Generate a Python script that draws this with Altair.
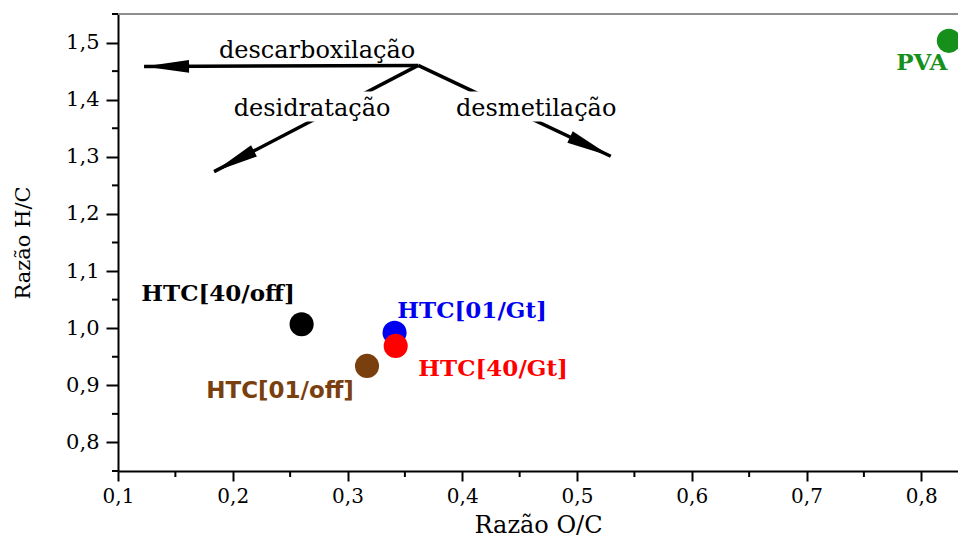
import math
import altair as alt
import pandas as pd

# ---------------- data ----------------
samples = ["PVA", "HTC[40/off]", "HTC[01/Gt]", "HTC[40/Gt]", "HTC[01/off]"]
oc_ratio = [0.824, 0.260, 0.341, 0.342, 0.317]
hc_ratio = [1.503, 1.007, 0.992, 0.969, 0.934]
sample_colors = ["#16901a", "#000000", "#0000f0", "#ff0000", "#7a3f0f"]
label_x = [0.8005, 0.1872, 0.4086, 0.4269, 0.2412]
label_y = [1.4515, 1.0473, 1.0182, 0.916, 0.8782]
label_sans = [False, False, False, False, True]

arrow_names = ["descarboxilação", "desidratação", "desmetilação"]
arrow_origin_x = 0.3616
arrow_origin_y = 1.460
arrow_tip_x = [0.1227, 0.1837, 0.5294]
arrow_tip_y = [1.458, 1.274, 1.301]
arrow_text_x = [0.2735, 0.2691, 0.4644]
arrow_text_y = [1.4727, 1.3714, 1.3714]
arrow_text_box = [False, True, True]

x_major = [0.1, 0.2, 0.3, 0.4, 0.5, 0.6, 0.7, 0.8]
x_minor = [0.15, 0.25, 0.35, 0.45, 0.55, 0.65, 0.75]
y_major = [0.8, 0.9, 1.0, 1.1, 1.2, 1.3, 1.4, 1.5]
y_minor = [0.75, 0.85, 0.95, 1.05, 1.15, 1.25, 1.35, 1.45, 1.55]

X_DOMAIN = [0.1, 0.832]
Y_DOMAIN = [0.75, 1.55]
W, H = 840, 457

px_x = W / (X_DOMAIN[1] - X_DOMAIN[0])
px_y = H / (Y_DOMAIN[1] - Y_DOMAIN[0])

# ---------------- tables ----------------
pts = pd.DataFrame({"sample": samples, "oc": oc_ratio, "hc": hc_ratio,
                    "color": sample_colors, "lx": label_x, "ly": label_y,
                    "sans": label_sans})

seg_rows = []
head_rows = []
for i, name in enumerate(arrow_names):
    seg_rows.append({"arrow": name, "order": 0, "x": arrow_origin_x, "y": arrow_origin_y})
    seg_rows.append({"arrow": name, "order": 1, "x": arrow_tip_x[i], "y": arrow_tip_y[i]})
    dx = (arrow_tip_x[i] - arrow_origin_x) * px_x
    dy = -(arrow_tip_y[i] - arrow_origin_y) * px_y
    ang = math.degrees(math.atan2(dy, dx)) % 360
    head_rows.append({"arrow": name, "x": arrow_tip_x[i], "y": arrow_tip_y[i], "angle": ang})
segs = pd.DataFrame(seg_rows)
heads = pd.DataFrame(head_rows)

txt = pd.DataFrame({"name": arrow_names, "x": arrow_text_x, "y": arrow_text_y, "box": arrow_text_box})
# white boxes behind the lower two labels (they hide the arrow shafts)
pad_l, pad_r, pad_up, pad_dn = 112 / px_x, 112 / px_x, 24.5 / px_y, 5.5 / px_y
boxes = txt[txt["box"]].copy()
boxes["x1"] = boxes["x"] - pad_l
boxes["x2"] = boxes["x"] + pad_r
boxes["y1"] = boxes["y"] - pad_dn
boxes["y2"] = boxes["y"] + pad_up

xminor_df = pd.DataFrame({"v": x_minor})
yminor_df = pd.DataFrame({"v": y_minor})

label_expr = "replace(format(datum.value, '.1f'), '.', ',')"

xscale = alt.Scale(domain=X_DOMAIN, nice=False, zero=False)
yscale = alt.Scale(domain=Y_DOMAIN, nice=False, zero=False)

x_axis = alt.Axis(values=x_major, labelExpr=label_expr, title="Razão O/C", grid=False,
                  tickSize=10, tickWidth=2, domainWidth=2, domainColor="black", tickColor="black",
                  labelFont="DejaVu Serif", labelFontSize=20, labelColor="black", labelPadding=5,
                  labelFlush=False, labelOverlap=False,
                  titleFont="DejaVu Serif", titleFontSize=24, titleFontWeight="normal",
                  titleColor="black", titlePadding=7)
y_axis = alt.Axis(values=y_major, labelExpr=label_expr, title="Razão H/C", grid=False,
                  tickSize=12, tickWidth=2, domainWidth=2, domainColor="black", tickColor="black",
                  labelFont="DejaVu Serif", labelFontSize=21, labelColor="black", labelPadding=7,
                  labelFlush=False, labelOverlap=False,
                  titleFont="DejaVu Serif", titleFontSize=21, titleFontWeight="normal",
                  titleColor="black", titlePadding=32)

base_pts = alt.Chart(pts)

top_line = alt.Chart(pts).mark_rule(color="#8a8a8a", strokeWidth=1).encode(
    x=alt.value(0), x2=alt.value(W), y=alt.value(0))

x_minor_ticks = alt.Chart(xminor_df).mark_rule(color="black", strokeWidth=2).encode(
    x=alt.X("v:Q", scale=xscale), y=alt.value(H), y2=alt.value(H + 6))

y_minor_ticks = alt.Chart(yminor_df).mark_rule(color="black", strokeWidth=2).encode(
    y=alt.Y("v:Q", scale=yscale), x=alt.value(0), x2=alt.value(-6))

shafts = alt.Chart(segs).mark_line(color="black", strokeWidth=3.5).encode(
    x=alt.X("x:Q", scale=xscale, axis=x_axis),
    y=alt.Y("y:Q", scale=yscale, axis=y_axis),
    detail="arrow:N", order="order:Q")

white_boxes = alt.Chart(boxes).mark_rect(color="white").encode(
    x=alt.X("x1:Q", scale=xscale), x2="x2:Q",
    y=alt.Y("y1:Q", scale=yscale), y2="y2:Q")

arrow_heads = alt.Chart(heads).mark_point(
    shape="M0,0 L-1,-0.14 L-1,0.14 Z", filled=True, size=8100, color="black",
    opacity=1, strokeWidth=0).encode(
    x=alt.X("x:Q", scale=xscale), y=alt.Y("y:Q", scale=yscale),
    angle=alt.Angle("angle:Q", scale=None))

arrow_labels = alt.Chart(txt).mark_text(
    font="DejaVu Serif", fontSize=24, color="black", align="center", baseline="alphabetic").encode(
    x=alt.X("x:Q", scale=xscale), y=alt.Y("y:Q", scale=yscale), text="name:N")

dots = base_pts.mark_circle(size=580, opacity=1).encode(
    x=alt.X("oc:Q", scale=xscale), y=alt.Y("hc:Q", scale=yscale),
    color=alt.Color("color:N", scale=None))

serif_labels = base_pts.transform_filter("!datum.sans").mark_text(
    font="DejaVu Serif", fontSize=23, fontWeight="bold", align="center", baseline="alphabetic").encode(
    x=alt.X("lx:Q", scale=xscale), y=alt.Y("ly:Q", scale=yscale), text="sample:N",
    color=alt.Color("color:N", scale=None))

sans_labels = base_pts.transform_filter("datum.sans").mark_text(
    font="DejaVu Sans", fontSize=23, fontWeight="bold", align="center", baseline="alphabetic").encode(
    x=alt.X("lx:Q", scale=xscale), y=alt.Y("ly:Q", scale=yscale), text="sample:N",
    color=alt.Color("color:N", scale=None))

chart = alt.layer(shafts, white_boxes, arrow_heads, arrow_labels, top_line,
                  x_minor_ticks, y_minor_ticks, dots,
                  serif_labels, sans_labels).properties(
    width=W, height=H,
    autosize=alt.AutoSizeParams(type="none"),
    padding={"left": 110, "top": 6, "right": 0, "bottom": 72},
    background="white",
).configure_view(stroke=None)

chart.save("out.html", embed_options={"renderer": "svg", "actions": False})
